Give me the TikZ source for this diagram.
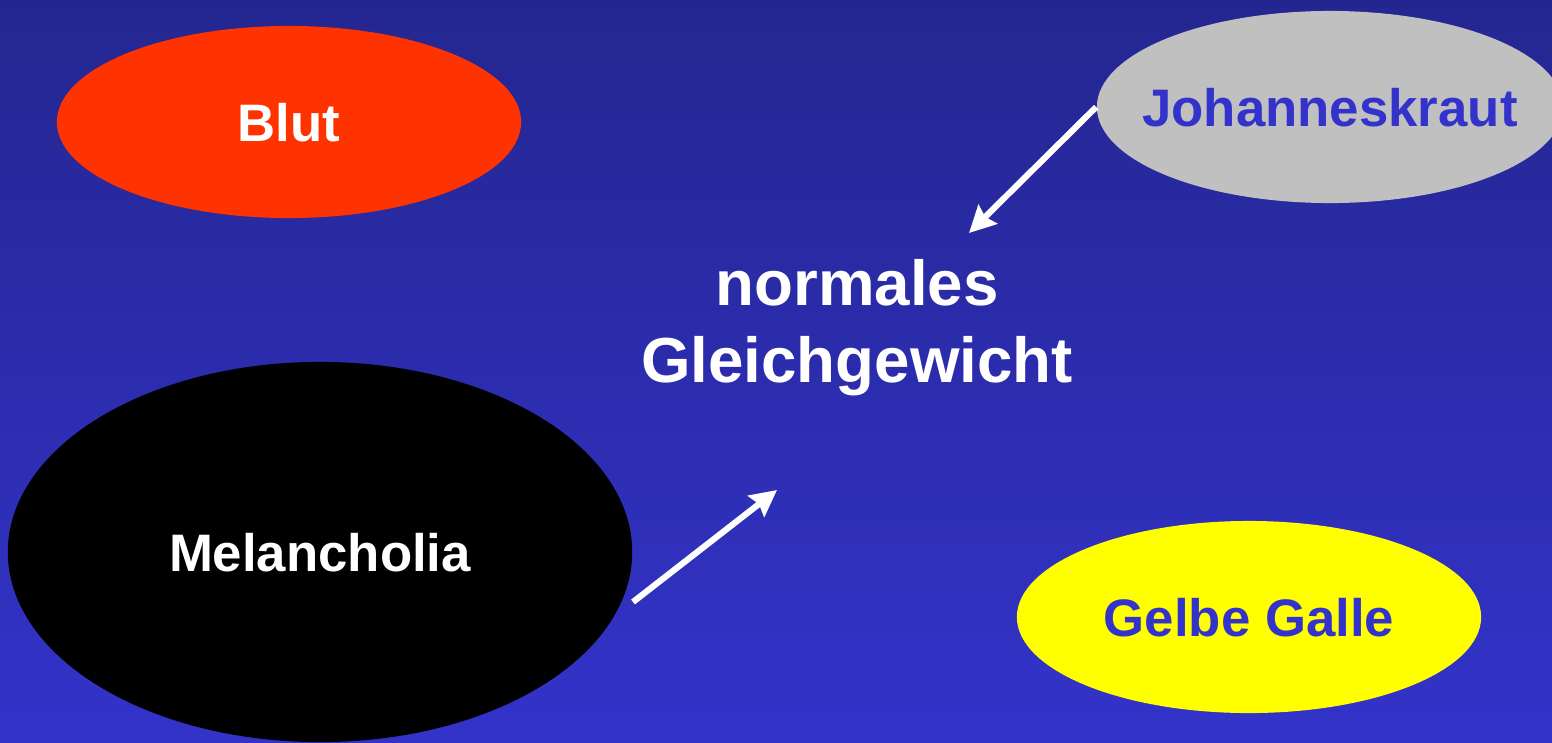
\documentclass[tikz,border=0pt]{standalone}
\usepackage{fontspec}
\setmainfont{Liberation Sans}
\usetikzlibrary{arrows.meta,shapes.geometric}
\definecolor{bgtop}{RGB}{36,38,144}
\definecolor{bgbot}{RGB}{51,51,202}
\definecolor{bloodred}{RGB}{255,51,0}
\definecolor{herbgrey}{RGB}{192,192,192}
\definecolor{bileyellow}{RGB}{255,255,0}
\definecolor{txtblue}{RGB}{51,51,204}
\tikzset{
  humor/.style={ellipse, inner sep=0pt, font=\fontsize{15pt}{18pt}\selectfont\bfseries, text depth=0pt},
  conn/.style={draw=white, line width=1.75pt, -{Stealth[length=7.5pt,width=7.5pt,inset=1pt]}},
  centre/.style={align=center, text=white, font=\fontsize{18.1pt}{21.9pt}\selectfont\bfseries}
}
\begin{document}
\begin{tikzpicture}[x=0.01cm,y=-0.01cm]
\useasboundingbox (0,0) rectangle (1552,742);
\clip (0,0) rectangle (1552,742);
\shade[top color=bgtop, bottom color=bgbot] (0,0) rectangle (1552,742);
\node[humor, fill=bloodred, text=white, minimum width=4.64cm, minimum height=1.92cm] (blut) at (289,122) {Blut};
\node[humor, fill=herbgrey, text=txtblue, inner xsep=-0.3cm, minimum width=4.66cm, minimum height=1.92cm] (johann) at (1330,107) {Johanneskraut};
\node[humor, fill=black, text=white, minimum width=6.24cm, minimum height=3.80cm] (mel) at (320,552) {Melancholia};
\node[humor, fill=bileyellow, text=txtblue, minimum width=4.64cm, minimum height=1.92cm] (galle) at (1249,617) {Gelbe Galle};
\node[centre] (gg) at (857,328) {normales\\Gleichgewicht};
\coordinate (t1) at (969,233);
\coordinate (m0) at (633,602);
\coordinate (t2) at (777,490);
\draw[conn] (johann.west) -- (t1);
\draw[conn] (m0) -- (t2);
\end{tikzpicture}
\end{document}
